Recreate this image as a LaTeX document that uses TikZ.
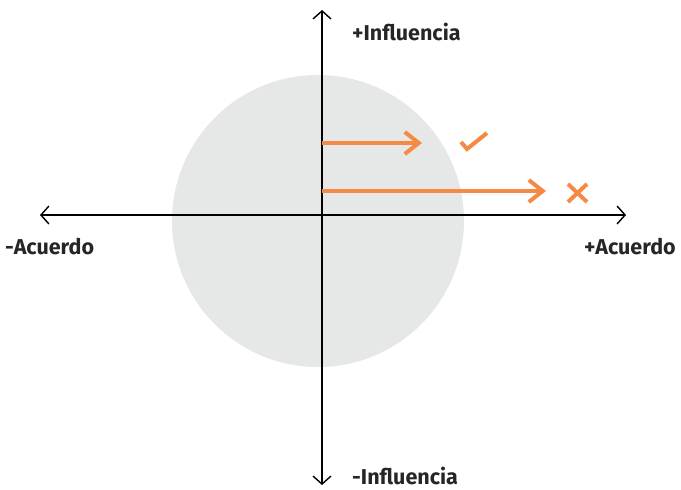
\documentclass[tikz,border=0pt]{standalone}
\usepackage{fontspec}
\setmainfont{Fira Sans}
\usetikzlibrary{arrows.meta}
\definecolor{naranja}{HTML}{F58A45}
\definecolor{gris}{HTML}{E6E7E7}
\begin{document}
\begin{tikzpicture}[x=1pt,y=-1pt,font=\fontsize{21.5}{24}\selectfont\bfseries,
  eje/.style={line width=1.4pt,-{Straight Barb[length=8pt,width=18pt,line width=1.4pt]}},
  flecha/.style={naranja,line width=4pt,-{Straight Barb[length=14pt,width=22pt,line width=4pt]}},
  marca/.style={naranja,line width=4pt},
  etiqueta/.style={text=black!85,inner sep=0pt,anchor=base west}]
\useasboundingbox (0,0) rectangle (681,490);
\fill[gris] (318,221) circle[radius=146];
\coordinate (o) at (322,215);
\coordinate (izq) at (40,215);
\coordinate (der) at (626,215);
\coordinate (arr) at (322,10);
\coordinate (abj) at (322,485);
\draw[eje] (o) -- (izq);
\draw[eje] (o) -- (der);
\draw[eje] (o) -- (arr);
\draw[eje] (o) -- (abj);
\node[etiqueta] (masinf) at (352,40) {+Influencia};
\node[etiqueta] (menosinf) at (352,484) {-Influencia};
\node[etiqueta] (menosac) at (5,254) {-Acuerdo};
\node[etiqueta] (masac) at (584,254) {+Acuerdo};
% flechas naranjas
\coordinate (a1) at (322,143);
\coordinate (b1) at (422,143);
\coordinate (a2) at (322,191);
\coordinate (b2) at (546,191);
\draw[flecha] (a1) -- (b1);
\draw[flecha] (a2) -- (b2);
% visto y cruz
\draw[marca] (461,142) -- (467,149) -- (487,133);
\draw[marca] (568,184) -- (587,202) (587,184) -- (568,202);
\end{tikzpicture}
\end{document}
